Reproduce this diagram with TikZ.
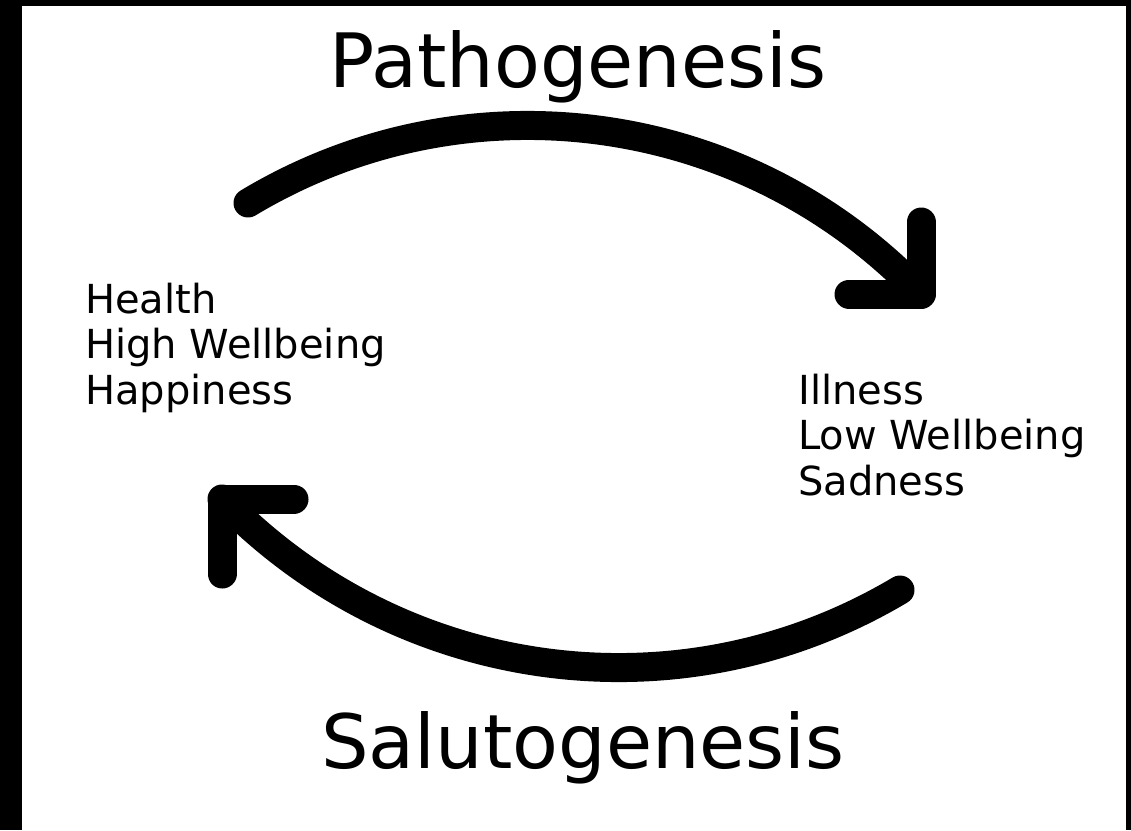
\documentclass[tikz,border=0pt]{standalone}
\usepackage{fontspec}
\setmainfont{DejaVu Sans}
\usetikzlibrary{positioning}
\tikzset{
    %Define style for the two headings
    heading/.style={
           inner sep=0pt,
           anchor=base,
           font=\fontsize{75}{90}\selectfont},
    %Define style for the state lists
    statelist/.style={
           inner sep=0pt,
           anchor=base west,
           align=left,
           font=\fontsize{40}{45.5}\selectfont},
    % Define style for the thick strokes
    sweep/.style={
           line width=29pt,
           line cap=round,
           line join=round}
}
\begin{document}
\begin{tikzpicture}[x=1pt,y=-1pt]
%frame
\fill[black] (0,0) rectangle (1131,830);
\fill[white] (22,6) rectangle (1126,830);
\useasboundingbox (0,0) rectangle (1131,830);
%nodes
\node[heading](patho) at (578,87){Pathogenesis};
\node[heading](saluto) at (583,768){Salutogenesis};
\node[statelist](well) at (85,404){Health\\High Wellbeing\\Happiness};
\node[statelist](ill) at (798,495){Illness\\Low Wellbeing\\Sadness};
%arc ends
\coordinate (ptail) at (248,203);
\coordinate (phead) at (921,294);
\coordinate (stail) at (900,590);
\coordinate (shead) at (222,499);
%arrows
\draw[sweep] (ptail) .. controls (466,72) and (746,110) .. (phead);
\draw[sweep] (phead) ++(0,-72) -- (phead) -- ++(-72,0);
\draw[sweep] (stail) .. controls (680,721) and (400,683) .. (shead);
\draw[sweep] (shead) ++(72,0) -- (shead) -- ++(0,75);
\end{tikzpicture}
\end{document}
